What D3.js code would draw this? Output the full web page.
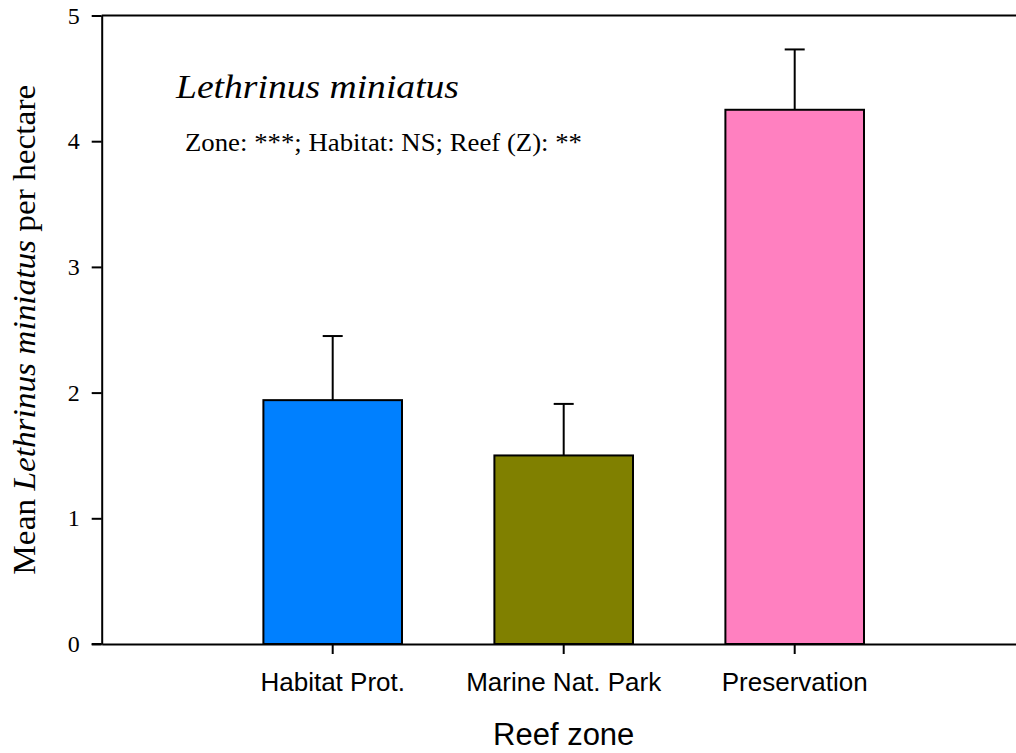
<!DOCTYPE html>
<html>
<head>
<meta charset="utf-8">
<script src="https://cdn.jsdelivr.net/npm/d3@7"></script>
<style>
  body { margin: 0; background: #fff; }
  svg { display: block; }
</style>
</head>
<body>
<div id="chart"></div>
<script>
// data
var zones = ["Habitat Prot.", "Marine Nat. Park", "Preservation"];
var means = [1.94, 1.50, 4.25];
var stdErr = [0.51, 0.41, 0.48];
var barColors = ["#0080FF", "#808000", "#FF80C0"];
var yTicks = [0, 1, 2, 3, 4, 5];

var width = 1016, height = 753;
var plotLeft = 101.7, plotRight = 1025.7, plotTop = 15.5, plotBottom = 644;

var svg = d3.select("#chart").append("svg")
  .attr("width", width).attr("height", height);

var xs = d3.scaleBand().domain(zones).range([plotLeft, plotRight])
  .paddingInner(0.4).paddingOuter(0.7);
var ys = d3.scaleLinear().domain([0, 5]).range([plotBottom, plotTop]);

// top frame line
svg.append("line")
  .attr("x1", plotLeft).attr("x2", plotRight)
  .attr("y1", ys(5)).attr("y2", ys(5))
  .attr("stroke", "#000").attr("stroke-width", 2);

// bars
svg.append("g").selectAll("rect")
  .data(zones)
  .enter()
  .append("rect")
  .attr("x", d => xs(d))
  .attr("width", xs.bandwidth())
  .attr("y", (d, i) => ys(means[i]))
  .attr("height", (d, i) => ys(0) - ys(means[i]))
  .attr("fill", (d, i) => barColors[i])
  .attr("stroke", "#000")
  .attr("stroke-width", 2);

// error bars (upper only)
var err = svg.append("g").attr("stroke", "#000").attr("stroke-width", 2);
zones.forEach(function (z, i) {
  var cx = xs(z) + xs.bandwidth() / 2;
  err.append("line")
    .attr("x1", cx).attr("x2", cx)
    .attr("y1", ys(means[i])).attr("y2", ys(means[i] + stdErr[i]));
  err.append("line")
    .attr("x1", cx - 10).attr("x2", cx + 10)
    .attr("y1", ys(means[i] + stdErr[i])).attr("y2", ys(means[i] + stdErr[i]));
});

// y axis
var yAxis = svg.append("g")
  .attr("transform", "translate(" + plotLeft + ",0)")
  .call(d3.axisLeft(ys).tickValues(yTicks).tickSize(10).tickSizeOuter(0).tickPadding(12).tickFormat(d3.format("d")))
  .attr("font-family", "'Liberation Serif', serif")
  .attr("font-size", 24);
yAxis.select(".domain").attr("stroke-width", 2);
yAxis.selectAll(".tick line").attr("stroke-width", 2);
yAxis.selectAll("text").attr("fill", "#000");

// x axis
var xAxis = svg.append("g")
  .attr("transform", "translate(0," + plotBottom + ")")
  .call(d3.axisBottom(xs).tickSize(10).tickSizeOuter(0).tickPadding(19))
  .attr("font-family", "'Liberation Sans', Arial, sans-serif")
  .attr("font-size", 26);
xAxis.select(".domain").attr("stroke-width", 2);
xAxis.selectAll(".tick line").attr("stroke-width", 2);
xAxis.selectAll("text").attr("fill", "#000");

// baseline runs a little left of the y axis
svg.append("line")
  .attr("x1", plotLeft - 10).attr("x2", plotLeft)
  .attr("y1", plotBottom).attr("y2", plotBottom)
  .attr("stroke", "#000").attr("stroke-width", 2);

// axis titles
svg.append("text")
  .attr("x", (plotLeft + plotRight) / 2)
  .attr("y", 745)
  .attr("text-anchor", "middle")
  .attr("font-family", "'Liberation Sans', Arial, sans-serif")
  .attr("font-size", 31)
  .text("Reef zone");

var yl = svg.append("text")
  .attr("transform", "translate(35," + (plotTop + plotBottom) / 2 + ") rotate(-90)")
  .attr("text-anchor", "middle")
  .attr("font-family", "'Liberation Serif', serif")
  .attr("font-size", 32)
  .attr("textLength", 490)
  .attr("lengthAdjust", "spacingAndGlyphs");
yl.append("tspan").text("Mean ");
yl.append("tspan").attr("font-style", "italic").text("Lethrinus miniatus");
yl.append("tspan").text(" per hectare");

// in-plot annotations
svg.append("text")
  .attr("x", 176)
  .attr("y", 98)
  .attr("font-family", "'Liberation Serif', serif")
  .attr("font-style", "italic")
  .attr("font-size", 34)
  .attr("textLength", 283)
  .attr("lengthAdjust", "spacingAndGlyphs")
  .text("Lethrinus miniatus");

svg.append("text")
  .attr("x", 185)
  .attr("y", 151)
  .attr("font-family", "'Liberation Serif', serif")
  .attr("font-size", 25)
  .attr("textLength", 397)
  .attr("lengthAdjust", "spacingAndGlyphs")
  .text("Zone: ***; Habitat: NS; Reef (Z): **");
</script>
</body>
</html>
